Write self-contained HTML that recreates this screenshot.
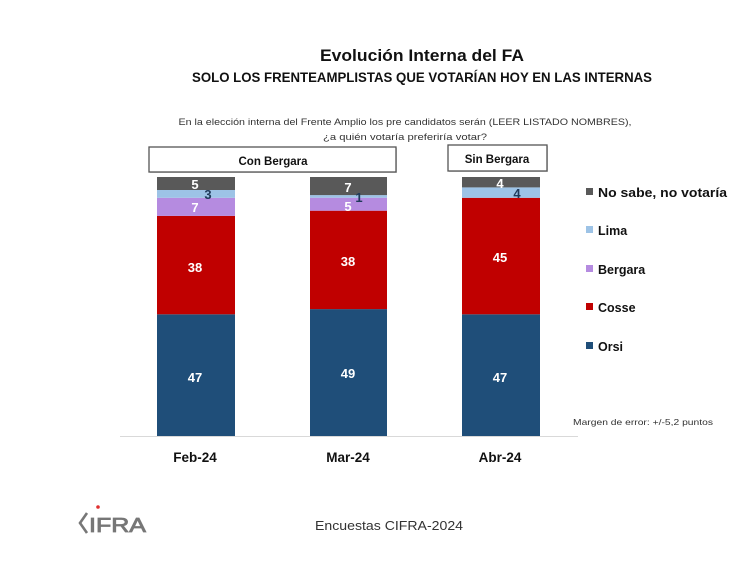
<!DOCTYPE html>
<html><head><meta charset="utf-8"><style>
html,body{margin:0;padding:0;background:#fff;}
svg{display:block;}
text{font-family:"Liberation Sans",sans-serif;}
</style></head><body>
<svg width="754" height="567" viewBox="0 0 754 567" xmlns="http://www.w3.org/2000/svg">
<rect width="754" height="567" fill="#fff"/>
<text x="422" y="61" text-anchor="middle" font-size="17" font-weight="bold" fill="#111" textLength="204" lengthAdjust="spacingAndGlyphs">Evolución Interna del FA</text>
<text x="422" y="82" text-anchor="middle" font-size="13.5" font-weight="bold" fill="#111" textLength="460" lengthAdjust="spacingAndGlyphs">SOLO LOS FRENTEAMPLISTAS QUE VOTARÍAN HOY EN LAS INTERNAS</text>
<text x="405" y="125" text-anchor="middle" font-size="9.5" fill="#333" textLength="453" lengthAdjust="spacingAndGlyphs">En la elección interna del Frente Amplio los pre candidatos serán (LEER LISTADO NOMBRES),</text>
<text x="405" y="140" text-anchor="middle" font-size="9.5" fill="#333" textLength="164" lengthAdjust="spacingAndGlyphs">¿a quién votaría preferiría votar?</text>
<!-- boxes -->
<rect x="150" y="148" width="247" height="25" fill="#999" opacity="0.4"/>
<rect x="149" y="147" width="247" height="25" fill="#fff" stroke="#555" stroke-width="1.3"/>
<text x="273" y="165" text-anchor="middle" font-size="11.5" font-weight="bold" fill="#111">Con Bergara</text>
<rect x="449" y="146" width="99" height="26" fill="#999" opacity="0.4"/>
<rect x="448" y="145" width="99" height="26" fill="#fff" stroke="#555" stroke-width="1.3"/>
<text x="497" y="163" text-anchor="middle" font-size="11.5" font-weight="bold" fill="#111">Sin Bergara</text>
<!-- axis -->
<line x1="120" y1="436.5" x2="578" y2="436.5" stroke="#d9d9d9" stroke-width="1"/>
<!-- Feb -->
<rect x="157" y="314.3" width="78" height="121.7" fill="#1f4e79"/>
<rect x="157" y="215.9" width="78" height="98.4" fill="#c00000"/>
<rect x="157" y="197.8" width="78" height="18.1" fill="#b58be0"/>
<rect x="157" y="190" width="78" height="7.8" fill="#9dc3e6"/>
<rect x="157" y="177" width="78" height="13" fill="#595959"/>
<!-- Mar -->
<rect x="310" y="309.1" width="77" height="126.9" fill="#1f4e79"/>
<rect x="310" y="210.7" width="77" height="98.4" fill="#c00000"/>
<rect x="310" y="197.7" width="77" height="13" fill="#b58be0"/>
<rect x="310" y="195.1" width="77" height="2.6" fill="#9dc3e6"/>
<rect x="310" y="177" width="77" height="18.1" fill="#595959"/>
<!-- Abr -->
<rect x="462" y="314.3" width="78" height="121.7" fill="#1f4e79"/>
<rect x="462" y="197.8" width="78" height="116.5" fill="#c00000"/>
<rect x="462" y="187.4" width="78" height="10.4" fill="#9dc3e6"/>
<rect x="462" y="177" width="78" height="10.4" fill="#595959"/>
<!-- labels -->
<g font-size="13" font-weight="bold" text-anchor="middle" fill="#fff">
<text x="195" y="189">5</text>
<text x="195" y="212">7</text>
<text x="195" y="272">38</text>
<text x="195" y="382">47</text>
<text x="348" y="192">7</text>
<text x="348" y="211">5</text>
<text x="348" y="266">38</text>
<text x="348" y="378">49</text>
<text x="500" y="188">4</text>
<text x="500" y="262">45</text>
<text x="500" y="382">47</text>
</g>
<g font-size="13" font-weight="bold" text-anchor="middle" fill="#1f3a5a">
<text x="208" y="199">3</text>
<text x="359" y="202">1</text>
<text x="517" y="198">4</text>
</g>
<!-- categories -->
<g font-size="13.5" font-weight="bold" text-anchor="middle" fill="#111">
<text x="195" y="462">Feb-24</text>
<text x="348" y="462">Mar-24</text>
<text x="500" y="462">Abr-24</text>
</g>
<!-- legend -->
<rect x="586" y="188" width="7" height="7" fill="#595959"/>
<rect x="586" y="226" width="7" height="7" fill="#9dc3e6"/>
<rect x="586" y="265" width="7" height="7" fill="#b58be0"/>
<rect x="586" y="303" width="7" height="7" fill="#c00000"/>
<rect x="586" y="342" width="7" height="7" fill="#1f4e79"/>
<g font-size="12.5" font-weight="bold" fill="#111">
<text x="598" y="197" textLength="129" lengthAdjust="spacingAndGlyphs">No sabe, no votaría</text>
<text x="598" y="235">Lima</text>
<text x="598" y="274">Bergara</text>
<text x="598" y="312">Cosse</text>
<text x="598" y="351">Orsi</text>
</g>
<text x="573" y="425" font-size="8.5" fill="#333" textLength="140" lengthAdjust="spacingAndGlyphs">Margen de error: +/-5,2 puntos</text>
<!-- footer -->
<text x="315" y="530" font-size="13" fill="#333" textLength="148" lengthAdjust="spacingAndGlyphs">Encuestas CIFRA-2024</text>
<!-- logo -->
<polyline points="87,513 80,523 87,533" fill="none" stroke="#777" stroke-width="2.6"/>
<circle cx="98" cy="507" r="1.8" fill="#e03030"/>
<text x="89" y="532" font-size="20" fill="#777" stroke="#777" stroke-width="0.8" textLength="57" lengthAdjust="spacingAndGlyphs">IFRA</text>
</svg>
</body></html>
